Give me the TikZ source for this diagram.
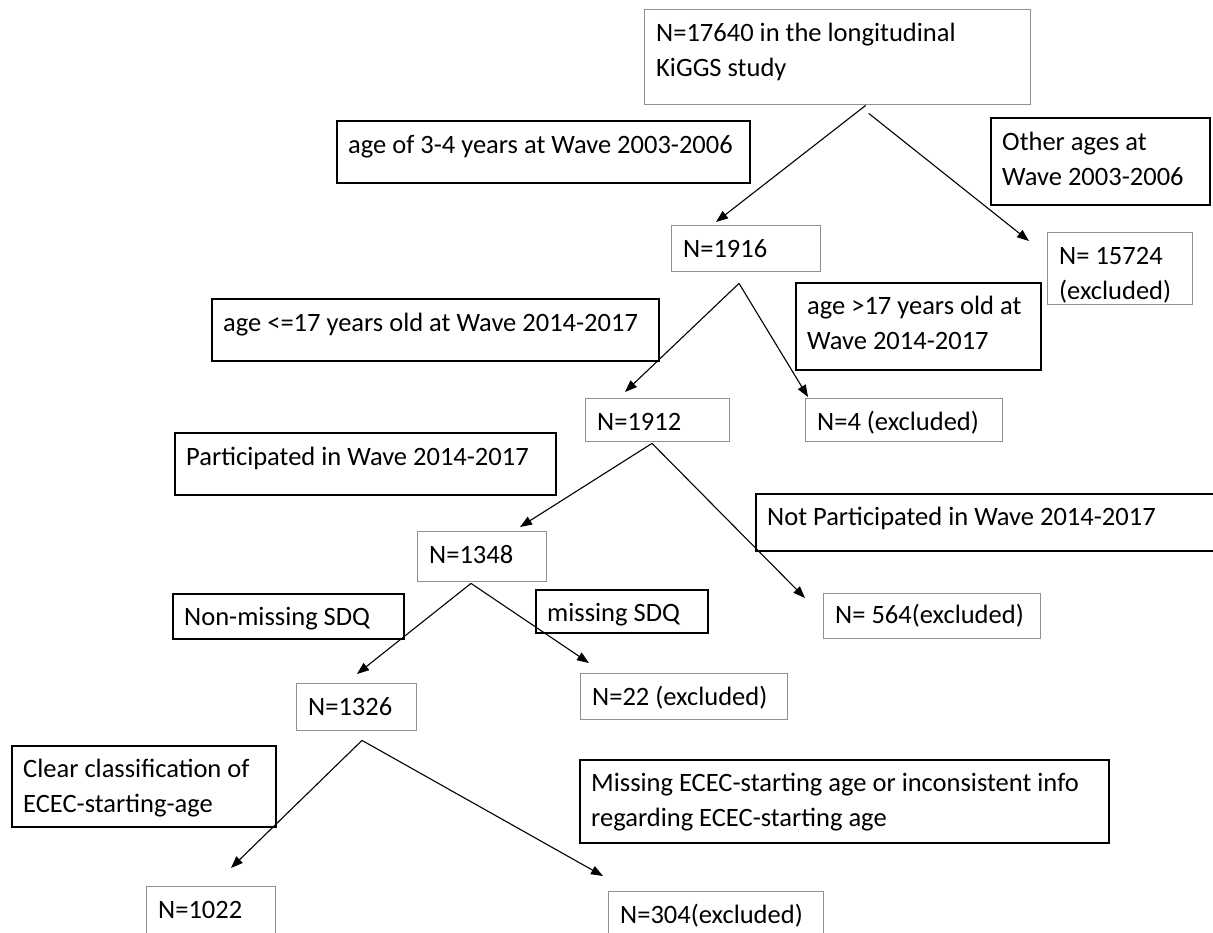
\documentclass[tikz,border=0pt]{standalone}
\usepackage{fontspec}
\setmainfont{Carlito}
\usetikzlibrary{arrows.meta}
\definecolor{framegray}{HTML}{8F8F8F}
\tikzset{
  countbox/.style={draw=framegray, line width=1.4pt, anchor=north west, inner sep=0pt},
  critbox/.style={draw=black, line width=2.2pt, anchor=north west, inner sep=0pt},
  boxtext/.style={anchor=north west, inner sep=0pt, align=left, font=\fontsize{26.5}{35}\selectfont},
  flow/.style={line width=1.1pt, -{Triangle[length=12pt,width=9pt]}},
}
\begin{document}
\begin{tikzpicture}[x=1pt, y=-1pt]
\useasboundingbox[fill=white] (0,0) rectangle (1213,933);

% sample counts (thin grey frames)
\node[countbox, minimum width=386pt, minimum height=95pt] (cohort) at (644,9) {};
\node[boxtext] (cohortT) at (656,17) {\strut N=17640 in the longitudinal\\KiGGS study};
\node[countbox, minimum width=149pt, minimum height=46pt] (n1916) at (671,225) {};
\node[boxtext] (n1916T) at (683,233) {\strut N=1916};
\node[countbox, minimum width=145pt, minimum height=72pt] (n15724) at (1047,232) {};
\node[boxtext] (n15724T) at (1059,240) {\strut N= 15724\\(excluded)};
\node[countbox, minimum width=144pt, minimum height=43pt] (n1912) at (585,398) {};
\node[boxtext] (n1912T) at (597,406) {\strut N=1912};
\node[countbox, minimum width=197pt, minimum height=43pt] (n4) at (805,398) {};
\node[boxtext] (n4T) at (817,406) {\strut N=4 (excluded)};
\node[countbox, minimum width=129pt, minimum height=50pt] (n1348) at (417,531) {};
\node[boxtext] (n1348T) at (429,539) {\strut N=1348};
\node[countbox, minimum width=217pt, minimum height=45pt] (n564) at (823,593) {};
\node[boxtext] (n564T) at (835,599) {\strut N= 564(excluded)};
\node[countbox, minimum width=120pt, minimum height=47pt] (n1326) at (296,683) {};
\node[boxtext] (n1326T) at (308,691) {\strut N=1326};
\node[countbox, minimum width=207pt, minimum height=46pt] (n22) at (580,673) {};
\node[boxtext] (n22T) at (592,681) {\strut N=22 (excluded)};
\node[countbox, minimum width=129pt, minimum height=60pt] (n1022) at (146,886) {};
\node[boxtext] (n1022T) at (158,894) {\strut N=1022};
\node[countbox, minimum width=215pt, minimum height=60pt] (n304) at (608,891) {};
\node[boxtext] (n304T) at (620,899) {\strut N=304(excluded)};

% selection criteria (heavy black frames)
\node[critbox, minimum width=413pt, minimum height=62pt] (age34) at (336,120) {};
\node[boxtext] (age34T) at (348,129) {\strut age of 3-4 years at Wave 2003-2006};
\node[critbox, minimum width=219pt, minimum height=87pt] (otherage) at (990,117) {};
\node[boxtext] (otherageT) at (1002,126) {\strut Other ages at\\Wave 2003-2006};
\node[critbox, minimum width=447pt, minimum height=62pt] (le17) at (211,298) {};
\node[boxtext] (le17T) at (223,307) {\strut age <=17 years old at Wave 2014-2017};
\node[critbox, minimum width=245pt, minimum height=87pt] (gt17) at (795,282) {};
\node[boxtext] (gt17T) at (807,290) {\strut age >17 years old at\\Wave 2014-2017};
\node[critbox, minimum width=381pt, minimum height=62pt] (part) at (174,432) {};
\node[boxtext] (partT) at (186,441) {\strut Participated in Wave 2014-2017};
\node[critbox, minimum width=462pt, minimum height=57pt] (notpart) at (755,493) {};
\node[boxtext] (notpartT) at (767,501) {\strut Not Participated in Wave 2014-2017};
\node[critbox, minimum width=231pt, minimum height=45pt] (sdq) at (172,593) {};
\node[boxtext] (sdqT) at (184,601) {\strut Non-missing SDQ};
\node[critbox, minimum width=172pt, minimum height=43pt] (nosdq) at (535,589) {};
\node[boxtext] (nosdqT) at (547,597) {\strut missing SDQ};
\node[critbox, minimum width=264pt, minimum height=81pt] (ecec) at (11,745) {};
\node[boxtext] (ececT) at (23,753) {\strut Clear classification of\\ECEC-starting-age};
\node[critbox, minimum width=529pt, minimum height=83pt] (noecec) at (579,759) {};
\node[boxtext] (noececT) at (591,767) {\strut Missing ECEC-starting age or inconsistent info\\regarding ECEC-starting age};

% branching arrows
\draw[flow] ([shift={(28,0)}]cohort.south) -- ([shift={(45,-3)}]n1916.north west);
\draw[flow] ([shift={(31,8)}]cohort.south) -- ([shift={(-18,9)}]n15724.north west);
\draw[flow] ([shift={(68,11)}]n1916.south west) -- ([shift={(40,-6)}]n1912.north west);
\draw[flow] ([shift={(68,11)}]n1916.south west) -- ([shift={(3,-1)}]n4.north west);
\draw[flow] ([shift={(67,1)}]n1912.south west) -- ([shift={(103,-4)}]n1348.north west);
\draw[flow] ([shift={(67,1)}]n1912.south west) -- ([shift={(-18,5)}]n564.north west);
\draw[flow] ([shift={(54,1)}]n1348.south west) -- ([shift={(61,-9)}]n1326.north west);
\draw[flow] ([shift={(54,1)}]n1348.south west) -- ([shift={(9,-10)}]n22.north west);
\draw[flow] ([shift={(66,9)}]n1326.south west) -- ([shift={(85,-18)}]n1022.north west);
\draw[flow] ([shift={(66,9)}]n1326.south west) -- ([shift={(-5,-15)}]n304.north west);
\end{tikzpicture}
\end{document}
